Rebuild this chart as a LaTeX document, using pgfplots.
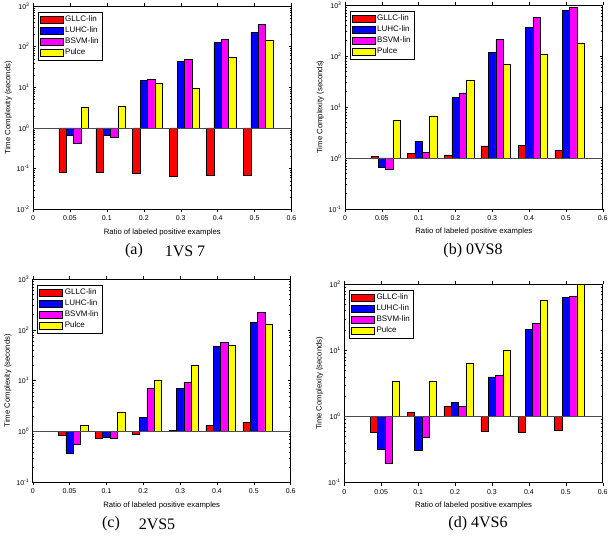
\documentclass[border=0pt]{standalone}
\usepackage{pgfplots}
\pgfplotsset{compat=1.18}
\usepackage{pgfplotstable}
\usepackage{fontspec}
\setmainfont{Liberation Serif}
\newfontfamily\arial{Liberation Sans}
\definecolor{mred}{RGB}{255,0,0}
\definecolor{mblue}{RGB}{0,0,255}
\definecolor{mmag}{RGB}{255,0,255}
\definecolor{myel}{RGB}{255,255,0}

% columns: offset x-positions for each series, then GLLC, LUHC, BSVM, Pulce
\pgfplotstableread{
xr xb xm xy r b m y
0.8 1 1.2 1.4 0.081 0.67 0.42 3.3
1.8 2 2.2 2.4 0.080 0.67 0.59 3.4
2.8 3 3.2 3.4 0.078 15.1 16 12.8
3.8 4 4.2 4.4 0.066 42.7 48 9.6
4.8 5 5.2 5.4 0.069 125 152 55
5.8 6 6.2 6.4 0.069 221 347 146
}\dataA
\pgfplotstableread{
xr xb xm xy r b m y
0.8 1 1.2 1.4 1.09 0.67 0.60 5.4
1.8 2 2.2 2.4 1.25 2.15 1.29 6.5
2.8 3 3.2 3.4 1.15 15.2 19 34
3.8 4 4.2 4.4 1.72 117 209 70
4.8 5 5.2 5.4 1.75 360 565 106
5.8 6 6.2 6.4 1.39 797 910 180
}\dataB
\pgfplotstableread{
xr xb xm xy r b m y
0.8 1 1.2 1.4 0.85 0.375 0.56 1.33
1.8 2 2.2 2.4 0.73 0.785 0.73 2.37
2.8 3 3.2 3.4 0.87 1.88 7.0 10.2
3.8 4 4.2 4.4 1.06 7.0 9.3 19.9
4.8 5 5.2 5.4 1.31 47 56 50
5.8 6 6.2 6.4 1.53 141 219 129
}\dataC
\pgfplotstableread{
xr xb xm xy r b m y
0.8 1 1.2 1.4 0.58 0.32 0.197 3.38
1.8 2 2.2 2.4 1.15 0.31 0.49 3.42
2.8 3 3.2 3.4 1.43 1.65 1.42 6.4
3.8 4 4.2 4.4 0.60 3.98 4.27 9.9
4.8 5 5.2 5.4 0.57 20.9 25.7 58
5.8 6 6.2 6.4 0.62 63 65 100
}\dataD

\pgfplotsset{
  mypanel/.style={
    scale only axis,
    xmin=0, xmax=7,
    xtick={0,1,2,3,4,5,6,7},
    xticklabels={0,0.05,0.1,0.2,0.3,0.4,0.5,0.6},
    tick align=inside,
    tick pos=both,
    major tick length=3pt,
    minor tick length=1.6pt,
    tick style={black, line width=0.4pt},
    axis line style={black, line width=0.6pt},
    ticklabel style={font=\arial\fontsize{7}{8}\selectfont},
    label style={font=\arial\fontsize{7.7}{9}\selectfont},
    xlabel={Ratio of labeled positive examples},
    ylabel={Time Complexity (seconds)},
    xlabel style={yshift=-1pt},
    ylabel style={yshift=-2pt},
    ybar, bar shift=0pt, bar width=0.2,
    legend image code/.code={\draw[##1, line width=0.5pt] (0pt,-3.4pt) rectangle (23pt,3.6pt);},
    legend style={at={(0.018,0.972)}, anchor=north west, draw=black, line width=0.5pt,
      font=\arial\fontsize{8}{9}\selectfont, row sep=-0.3pt, inner sep=1.8pt,
      cells={anchor=west}},
  },
  mybar/.style={draw=black, line width=0.5pt, fill=#1},
}

\newcommand{\panelplots}[1]{%
  \addplot[mybar=mred]  table[x=xr, y=r] {#1};
  \addplot[mybar=mblue] table[x=xb, y=b] {#1};
  \addplot[mybar=mmag]  table[x=xm, y=m] {#1};
  \addplot[mybar=myel]  table[x=xy, y=y] {#1};
  \legend{GLLC-lin, LUHC-lin, BSVM-lin, Pulce}
  \addplot[sharp plot, no marks, black!70, line width=0.6pt, forget plot] coordinates {(0,1) (7,1)};
}

\begin{document}
\begin{tikzpicture}
\useasboundingbox (0pt,0pt) rectangle (609pt,537pt);

% (a)
\begin{semilogyaxis}[mypanel, at={(33pt,327.7pt)}, anchor=south west, width=258.5pt, height=203.3pt,
  ymin=1e-2, ymax=1e3,
  ytick={1e-2,1e-1,1e0,1e1,1e2,1e3},
  yticklabels={10\textsuperscript{-2},10\textsuperscript{-1},10\textsuperscript{0},10\textsuperscript{1},10\textsuperscript{2},10\textsuperscript{3}}]
\panelplots{\dataA}
\end{semilogyaxis}

% (b)
\begin{semilogyaxis}[mypanel, at={(345pt,328pt)}, anchor=south west, width=257.7pt, height=204pt,
  ymin=1e-1, ymax=1e3,
  ytick={1e-1,1e0,1e1,1e2,1e3},
  yticklabels={10\textsuperscript{-1},10\textsuperscript{0},10\textsuperscript{1},10\textsuperscript{2},10\textsuperscript{3}}]
\panelplots{\dataB}
\end{semilogyaxis}

% (c)
\begin{semilogyaxis}[mypanel, at={(32.7pt,54.7pt)}, anchor=south west, width=258pt, height=203.3pt,
  ymin=1e-1, ymax=1e3,
  ytick={1e-1,1e0,1e1,1e2,1e3},
  yticklabels={10\textsuperscript{-1},10\textsuperscript{0},10\textsuperscript{1},10\textsuperscript{2},10\textsuperscript{3}}]
\panelplots{\dataC}
\end{semilogyaxis}

% (d)
\begin{semilogyaxis}[mypanel, at={(344.3pt,54.3pt)}, anchor=south west, width=258.4pt, height=198.4pt,
  ymin=1e-1, ymax=1e2,
  ytick={1e-1,1e0,1e1,1e2},
  yticklabels={10\textsuperscript{-1},10\textsuperscript{0},10\textsuperscript{1},10\textsuperscript{2}}]
\panelplots{\dataD}
\end{semilogyaxis}

% captions
\node[font=\fontsize{16}{18}\selectfont] at (134pt,286pt) {(a)};
\node[font=\fontsize{16}{18}\selectfont] at (185pt,286pt) {1VS 7};
\node[font=\fontsize{16}{18}\selectfont] at (473pt,286pt) {(b) 0VS8};
\node[font=\fontsize{16}{18}\selectfont] at (111pt,13pt) {(c)};
\node[font=\fontsize{16}{18}\selectfont] at (157pt,13pt) {2VS5};
\node[font=\fontsize{16}{18}\selectfont] at (478pt,13pt) {(d) 4VS6};
\end{tikzpicture}
\end{document}
